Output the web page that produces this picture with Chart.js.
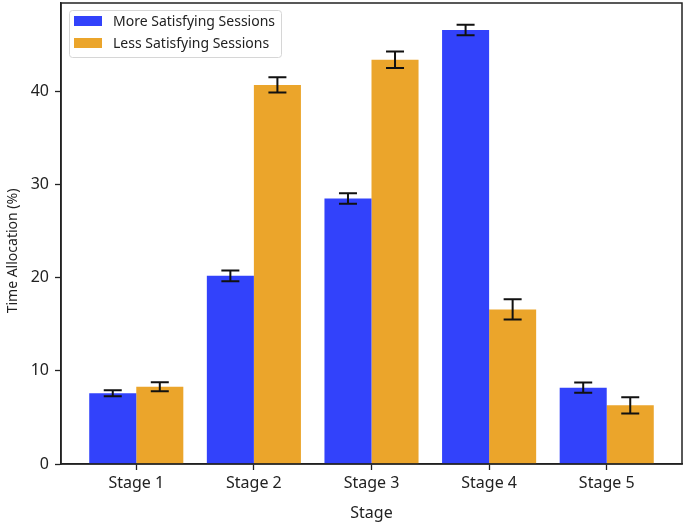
<!DOCTYPE html>
<html>
<head>
<meta charset="utf-8">
<script src="https://cdn.jsdelivr.net/npm/chart.js@4.4.1/dist/chart.umd.min.js"></script>
<style>
  html, body { margin: 0; padding: 0; background: #fff; }
  canvas { display: block; }
</style>
</head>
<body>
<canvas id="stageChart" width="685" height="526"></canvas>
<script>
// data
const stages = ['Stage 1', 'Stage 2', 'Stage 3', 'Stage 4', 'Stage 5'];
const moreSatisfying = [7.6, 20.2, 28.5, 46.6, 8.2];
const moreErr = [0.32, 0.57, 0.56, 0.56, 0.54];
const lessSatisfying = [8.3, 40.7, 43.4, 16.6, 6.3];
const lessErr = [0.48, 0.82, 0.89, 1.09, 0.88];
const yTicks = [0, 10, 20, 30, 40];

const FONT = "'Noto Sans', 'Open Sans', sans-serif";
const INK = '#222';

// error bars, drawn through the y scale
const errorBars = {
  id: 'errorBars',
  afterDatasetsDraw(chart) {
    const ctx = chart.ctx;
    const y = chart.scales.y;
    ctx.save();
    ctx.strokeStyle = '#111';
    ctx.lineWidth = 2;
    chart.data.datasets.forEach((ds, di) => {
      const meta = chart.getDatasetMeta(di);
      meta.data.forEach((bar, i) => {
        const v = ds.data[i].y;
        const e = ds.errors[i];
        const top = y.getPixelForValue(v + e);
        const bot = y.getPixelForValue(v - e);
        const cx = bar.x;
        ctx.beginPath();
        ctx.moveTo(cx, top); ctx.lineTo(cx, bot);
        ctx.moveTo(cx - 9, top); ctx.lineTo(cx + 9, top);
        ctx.moveTo(cx - 9, bot); ctx.lineTo(cx + 9, bot);
        ctx.stroke();
      });
    });
    ctx.restore();
  }
};

// axes frame, inner legend and y title
const frameAndLegend = {
  id: 'frameAndLegend',
  afterDraw(chart) {
    const ctx = chart.ctx;
    const a = chart.chartArea;
    ctx.save();
    ctx.strokeStyle = INK;
    ctx.lineWidth = 1.5;
    ctx.strokeRect(a.left, a.top, a.right - a.left, a.bottom - a.top);

    // legend box
    const lx = a.left + 8, ly = a.top + 7;
    ctx.fillStyle = 'rgba(255,255,255,0.9)';
    ctx.strokeStyle = '#d6d6d6';
    ctx.lineWidth = 1;
    ctx.beginPath();
    ctx.roundRect(lx + 0.5, ly + 0.5, 212, 47, 3);
    ctx.fill();
    ctx.stroke();
    ctx.font = '14px ' + FONT;
    ctx.textBaseline = 'middle';
    chart.data.datasets.forEach((ds, i) => {
      const rowY = ly + 11 + i * 22;
      ctx.fillStyle = ds.backgroundColor;
      ctx.fillRect(lx + 5, rowY - 5, 28, 10);
      ctx.fillStyle = INK;
      ctx.fillText(ds.label, lx + 44, rowY + 1);
    });

    // y axis title
    ctx.translate(13, 251);
    ctx.rotate(-Math.PI / 2);
    ctx.font = '14px ' + FONT;
    ctx.fillStyle = INK;
    ctx.textAlign = 'center';
    ctx.textBaseline = 'middle';
    ctx.fillText('Time Allocation (%)', 0, 0);
    ctx.restore();
  }
};

const ctx = document.getElementById('stageChart').getContext('2d');
new Chart(ctx, {
  type: 'bar',
  data: {
    datasets: [{
      label: 'More Satisfying Sessions',
      data: moreSatisfying.map((v, i) => ({ x: i, y: v })),
      errors: moreErr,
      backgroundColor: '#3242fb',
      borderWidth: 0
    }, {
      label: 'Less Satisfying Sessions',
      data: lessSatisfying.map((v, i) => ({ x: i, y: v })),
      errors: lessErr,
      backgroundColor: '#eba52b',
      borderWidth: 0
    }]
  },
  options: {
    responsive: false,
    animation: false,
    categoryPercentage: 0.8,
    barPercentage: 1.0,
    layout: { padding: { top: 3, right: 3, left: 0, bottom: 0 } },
    plugins: {
      legend: { display: false },
      tooltip: { enabled: false }
    },
    scales: {
      x: {
        type: 'linear',
        offset: false,
        min: -0.64,
        max: 4.64,
        afterBuildTicks: (axis) => { axis.ticks = stages.map((s, i) => ({ value: i })); },
        afterFit: (axis) => { axis.height = 62; axis.paddingLeft = 0; axis.paddingRight = 0; },
        ticks: {
          callback: (v) => stages[v],
          font: { family: FONT, size: 16 },
          color: INK,
          padding: 4,
          maxRotation: 0
        },
        grid: { offset: false, drawOnChartArea: false, drawTicks: true, tickLength: 6, tickColor: INK, tickWidth: 1.3 },
        border: { display: true, color: INK, width: 1.5 },
        title: {
          display: true,
          text: 'Stage',
          font: { family: FONT, size: 16 },
          color: INK,
          padding: { top: 0, bottom: 3 }
        }
      },
      y: {
        min: 0,
        max: 49.5,
        afterBuildTicks: (axis) => { axis.ticks = yTicks.map(v => ({ value: v })); },
        afterFit: (axis) => { axis.width = 61; axis.paddingTop = 0; axis.paddingBottom = 0; },
        ticks: {
          font: { family: FONT, size: 16 },
          color: INK,
          padding: 6
        },
        grid: { drawOnChartArea: false, drawTicks: true, tickLength: 6, tickColor: INK, tickWidth: 1.3 },
        border: { display: true, color: INK, width: 1.5 }
      }
    }
  },
  plugins: [errorBars, frameAndLegend]
});
</script>
</body>
</html>
